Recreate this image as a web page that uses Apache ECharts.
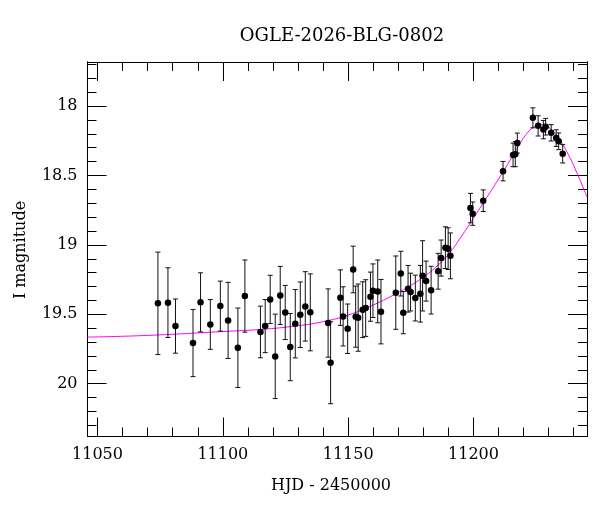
<!DOCTYPE html>
<html>
<head>
<meta charset="utf-8">
<script src="https://cdn.jsdelivr.net/npm/echarts@6/dist/echarts.min.js"></script>
<style>
  html, body { margin: 0; padding: 0; background: #fff; }
  #chart { width: 600px; height: 512px; }
</style>
</head>
<body>
<div id="chart"></div>
<script>
// photometry: HJD-2450000, I mag, 1-sigma error
const obsHjd = [11074.1, 11078.1, 11081.1, 11088.1, 11091.1, 11095.0, 11099.0, 11102.1, 11106.0, 11108.8,
  11115.0, 11116.9, 11118.9, 11120.9, 11122.9, 11124.9, 11126.9, 11128.9, 11130.9, 11132.9,
  11134.9, 11142.0, 11143.0, 11146.9, 11148.0, 11149.8, 11152.0, 11153.0, 11154.0, 11155.8,
  11157.0, 11158.9, 11159.9, 11161.8, 11163.1, 11169.0, 11171.0, 11172.0, 11173.9, 11174.9,
  11176.8, 11178.8, 11179.7, 11181.1, 11183.1, 11185.9, 11187.1, 11188.8, 11189.9, 11190.8,
  11198.8, 11199.7, 11203.9, 11211.8, 11215.8, 11216.7, 11217.5, 11223.7, 11225.8, 11227.9,
  11228.8, 11231.0, 11233.0, 11234.0, 11235.6];
const obsMag = [19.421, 19.416, 19.585, 19.707, 19.414, 19.573, 19.441, 19.544, 19.741, 19.369,
  19.627, 19.585, 19.393, 19.803, 19.364, 19.487, 19.736, 19.568, 19.503, 19.443,
  19.486, 19.563, 19.849, 19.380, 19.515, 19.604, 19.177, 19.517, 19.524, 19.467,
  19.455, 19.373, 19.330, 19.335, 19.481, 19.344, 19.207, 19.488, 19.316, 19.340,
  19.383, 19.352, 19.223, 19.261, 19.326, 19.190, 19.095, 19.020, 19.027, 19.079,
  18.735, 18.775, 18.682, 18.469, 18.352, 18.347, 18.267, 18.085, 18.143, 18.170,
  18.149, 18.193, 18.231, 18.254, 18.344];
const obsErr = [0.369, 0.251, 0.195, 0.242, 0.213, 0.179, 0.180, 0.274, 0.286, 0.260,
  0.186, 0.191, 0.174, 0.304, 0.209, 0.195, 0.242, 0.246, 0.236, 0.250,
  0.277, 0.246, 0.295, 0.200, 0.213, 0.178, 0.168, 0.220, 0.242, 0.201,
  0.204, 0.177, 0.193, 0.226, 0.232, 0.264, 0.161, 0.152, 0.168, 0.136,
  0.165, 0.204, 0.253, 0.144, 0.172, 0.129, 0.130, 0.150, 0.150, 0.165,
  0.106, 0.084, 0.078, 0.070, 0.085, 0.090, 0.072, 0.072, 0.073, 0.066,
  0.060, 0.059, 0.060, 0.060, 0.066];

// fitted model curve, sampled off the plot
const modelHjd = [11046.0, 11070, 11100, 11115, 11130, 11140, 11150, 11160, 11170, 11175,
  11180, 11185, 11190, 11195, 11200, 11205, 11210, 11215, 11218, 11221,
  11224, 11226.5, 11229, 11232, 11235, 11238, 11241, 11245.3];
const modelMag = [19.664, 19.652, 19.624, 19.609, 19.582, 19.553, 19.505, 19.433, 19.343, 19.292,
  19.232, 19.160, 19.068, 18.944, 18.807, 18.667, 18.526, 18.379, 18.288, 18.205,
  18.152, 18.132, 18.142, 18.188, 18.259, 18.355, 18.470, 18.656];

const hjdMajor = [11050, 11100, 11150, 11200];
const hjdMinor = [11050, 11060, 11070, 11080, 11090, 11100, 11110, 11120, 11130, 11140,
  11150, 11160, 11170, 11180, 11190, 11200, 11210, 11220, 11230, 11240];
const magMajor = [18, 18.5, 19, 19.5, 20];
const magMinor = [17.7, 17.8, 17.9, 18, 18.1, 18.2, 18.3, 18.4, 18.5, 18.6, 18.7, 18.8, 18.9,
  19, 19.1, 19.2, 19.3, 19.4, 19.5, 19.6, 19.7, 19.8, 19.9, 20, 20.1, 20.2, 20.3];

const hjdRange = [11046.0, 11245.3];
const magRange = [17.683, 20.38];

const serif = 'DejaVu Serif';

// one axis of the frame; ticks point inward, labels only on bottom/left majors
function frameAxis(position, range, ticks, len, withLabels) {
  const ax = {
    type: 'value',
    gridIndex: 0,
    position: position,
    min: range[0],
    max: range[1],
    axisLine: { show: true, onZero: false, lineStyle: { color: '#000', width: 1 } },
    axisTick: { show: true, inside: true, length: len, customValues: ticks,
      lineStyle: { color: '#000', width: 1 } },
    axisLabel: { show: false },
    splitLine: { show: false }
  };
  if (withLabels) {
    ax.axisLabel = {
      show: true, customValues: ticks, margin: 10,
      color: '#000', fontFamily: serif, fontSize: 16,
      formatter: v => String(v)
    };
  }
  return ax;
}

const xAxes = [
  frameAxis('bottom', hjdRange, hjdMajor, 19, true),
  frameAxis('bottom', hjdRange, hjdMinor, 9, false),
  frameAxis('top', hjdRange, hjdMajor, 19, false),
  frameAxis('top', hjdRange, hjdMinor, 9, false)
];
const yAxes = [
  frameAxis('left', magRange, magMajor, 19, true),
  frameAxis('left', magRange, magMinor, 9, false),
  frameAxis('right', magRange, magMajor, 19, false),
  frameAxis('right', magRange, magMinor, 9, false)
];
yAxes.forEach(a => { a.inverse = true; });

const points = obsHjd.map((t, i) => [t, obsMag[i]]);
const bars = obsHjd.map((t, i) => [t, obsMag[i] - obsErr[i], obsMag[i] + obsErr[i]]);
const model = modelHjd.map((t, i) => [t, modelMag[i]]);

function renderErrorBar(params, api) {
  const top = api.coord([api.value(0), api.value(1)]);
  const bot = api.coord([api.value(0), api.value(2)]);
  const cap = 2.5;
  const style = { stroke: '#111', lineWidth: 1 };
  return {
    type: 'group',
    children: [
      { type: 'line', shape: { x1: top[0], y1: top[1], x2: bot[0], y2: bot[1] }, style: style },
      { type: 'line', shape: { x1: top[0] - cap, y1: top[1], x2: top[0] + cap, y2: top[1] }, style: style },
      { type: 'line', shape: { x1: bot[0] - cap, y1: bot[1], x2: bot[0] + cap, y2: bot[1] }, style: style }
    ]
  };
}

const chart = echarts.init(document.getElementById('chart'), null, { renderer: 'canvas' });
chart.setOption({
  animation: false,
  backgroundColor: '#fff',
  grid: { left: 87.5, right: 13, top: 62, bottom: 75.5, containLabel: false },
  xAxis: xAxes,
  yAxis: yAxes,
  graphic: [
    { type: 'text', x: 342, y: 36, style: { text: 'OGLE-2026-BLG-0802', fill: '#000',
      font: '18px "DejaVu Serif"', textAlign: 'center', textVerticalAlign: 'middle' } },
    { type: 'text', x: 331, y: 486, style: { text: 'HJD - 2450000', fill: '#000',
      font: '16px "DejaVu Serif"', textAlign: 'center', textVerticalAlign: 'middle' } },
    { type: 'text', x: 21, y: 250, rotation: Math.PI / 2, style: { text: 'I magnitude', fill: '#000',
      font: '16px "DejaVu Serif"', textAlign: 'center', textVerticalAlign: 'middle' } }
  ],
  series: [
    {
      type: 'line', data: model, xAxisIndex: 0, yAxisIndex: 0,
      smooth: 0.5, symbol: 'none',
      lineStyle: { color: '#ff00ff', width: 1 }, z: 2
    },
    {
      type: 'custom', data: bars, xAxisIndex: 0, yAxisIndex: 0,
      renderItem: renderErrorBar, z: 3
    },
    {
      type: 'scatter', data: points, xAxisIndex: 0, yAxisIndex: 0,
      symbol: 'circle', symbolSize: 6.5,
      itemStyle: { color: '#000', opacity: 1 }, z: 4
    }
  ]
});
</script>
</body>
</html>
